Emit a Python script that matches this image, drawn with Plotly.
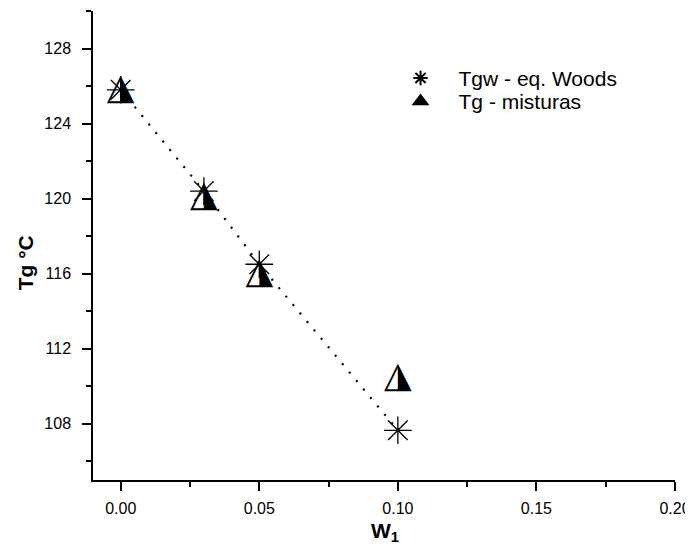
import plotly.graph_objects as go

# Data
w1 = [0.00, 0.03, 0.05, 0.10]
tgw_woods = [125.8, 120.4, 116.5, 107.65]
tg_misturas = [125.8, 120.1, 116.0, 110.45]

x_ticks = [0.00, 0.05, 0.10, 0.15, 0.20]
x_tick_labels = ["0.00", "0.05", "0.10", "0.15", "0.20"]
y_ticks = [108, 112, 116, 120, 124, 128]
y_tick_labels = ["108", "112", "116", "120", "124", "128"]

FONT = "Liberation Sans, Arial, sans-serif"

fig = go.Figure()

# dotted line through Woods points
fig.add_trace(go.Scatter(
    x=w1, y=tgw_woods, mode="lines",
    line=dict(color="black", width=2.2, dash="2px,9px"),
    showlegend=False, hoverinfo="skip",
))

# half-filled triangles
fig.add_trace(go.Scatter(
    x=w1, y=tg_misturas, mode="text",
    text=["\u25ee"] * len(w1),
    textposition="middle center",
    textfont=dict(family="DejaVu Sans", size=36, color="black"),
    showlegend=False, hoverinfo="skip",
))

# asterisks
fig.add_trace(go.Scatter(
    x=w1, y=tgw_woods, mode="markers",
    name="Tgw - eq. Woods", legend="legend",
    marker=dict(symbol="asterisk-open", size=23, color="black",
                line=dict(color="black", width=1.3)),
))

# legend entry for triangles
fig.add_trace(go.Scatter(
    x=[None], y=[None], mode="markers",
    name="Tg - misturas", legend="legend2",
    marker=dict(symbol="triangle-up", size=11, color="black",
                line=dict(color="black", width=1)),
))

legend_common = dict(xanchor="left", yanchor="middle",
                     bgcolor="rgba(0,0,0,0)", font=dict(size=21, family=FONT, color="black"),
                     itemsizing="constant", itemwidth=66, borderwidth=0)

fig.update_layout(
    width=685, height=537,
    margin=dict(l=85, r=18, t=3, b=65, autoexpand=False),
    paper_bgcolor="white", plot_bgcolor="white",
    font=dict(family=FONT, size=16, color="black"),
    showlegend=True,
    legend=dict(x=0.4975, y=0.8565, **legend_common),
    legend2=dict(x=0.4975, y=0.807, **legend_common),
    xaxis=dict(
        range=[-0.01, 0.2], automargin=False,
        tickmode="array", tickvals=x_ticks, ticktext=x_tick_labels,
        ticks="outside", ticklen=9, tickwidth=1.5, tickcolor="black",
        minor=dict(ticks="outside", ticklen=5, tickwidth=1.5, tickcolor="black", dtick=0.025),
        showline=True, linecolor="black", linewidth=1.5,
        showgrid=False, zeroline=False,
        tickfont=dict(size=16, family=FONT),
        ticklabelstandoff=4, ticklabeloverflow="allow",
    ),
    yaxis=dict(
        range=[105, 130], automargin=False,
        tickmode="array", tickvals=y_ticks, ticktext=y_tick_labels,
        ticks="outside", ticklen=9, tickwidth=1.5, tickcolor="black",
        minor=dict(ticks="outside", ticklen=5, tickwidth=1.5, tickcolor="black", dtick=2),
        showline=True, linecolor="black", linewidth=1.5,
        showgrid=False, zeroline=False,
        tickfont=dict(size=16, family=FONT),
        ticklabelstandoff=8,
    ),
    annotations=[
        dict(text="<b>Tg °C</b>", textangle=-90,
             xref="paper", yref="paper", x=-0.117, y=0.464,
             xanchor="center", yanchor="middle", showarrow=False,
             font=dict(size=21, family=FONT, color="black")),
        dict(text="<b>W<sub>1</sub></b>",
             xref="paper", yref="paper", x=0.501, y=-0.11,
             xanchor="center", yanchor="middle", showarrow=False,
             font=dict(size=21, family=FONT, color="black")),
    ],
)

fig.write_html("out.html")
